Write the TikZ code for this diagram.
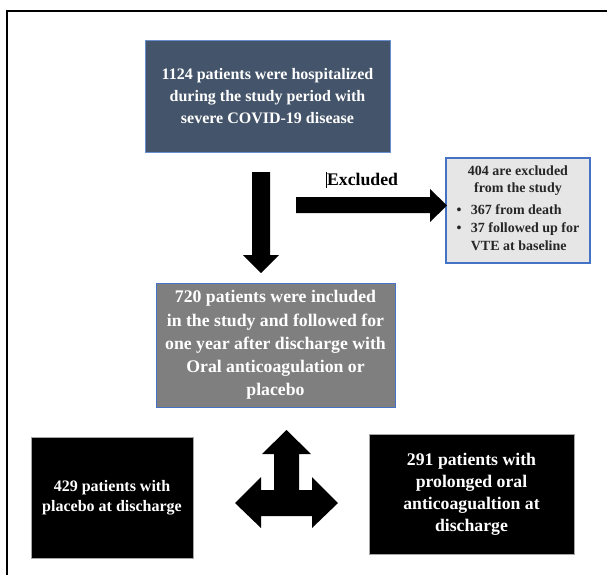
\documentclass[tikz,border=0pt]{standalone}
\usepackage{fontspec}
\setmainfont{Liberation Serif}
\usepackage{xcolor}
\usetikzlibrary{positioning}
\definecolor{slate}{HTML}{44546A}
\definecolor{edgeblue}{HTML}{4472C4}
\definecolor{midgray}{HTML}{7F7F7F}
\definecolor{lightgray}{HTML}{E7E6E6}
\tikzset{
  box/.style={draw, align=center, font=\bfseries, inner sep=2pt},
  topbox/.style={box, fill=slate, draw=edgeblue!80, text=white, line width=0.6pt,
    minimum width=245*0.75pt, minimum height=112*0.75pt, font=\bfseries\fontsize{12}{16.5}\selectfont},
  midbox/.style={box, fill=midgray, draw=edgeblue, text=white, line width=0.6pt,
    minimum width=239*0.75pt, minimum height=124*0.75pt, font=\bfseries\fontsize{13.3}{17.4}\selectfont},
  exbox/.style={box, fill=lightgray, draw=edgeblue, line width=1.1pt, text=black!85,
    minimum width=144*0.75pt, minimum height=105*0.75pt, font=\bfseries\fontsize{10.5}{13.3}\selectfont},
  armbox/.style={box, fill=black, draw=gray!70, text=white, line width=0.4pt},
  blockarr/.style={fill=black, draw=none},
}
\begin{document}
\begin{tikzpicture}[x=0.75pt, y=-0.75pt]
  \useasboundingbox (0,0) rectangle (607,575);
  \draw[line width=1.6pt] (7,575) -- (7,11) -- (607,11);

  \node[topbox] (hosp) at (267.5,96) {1124 patients were hospitalized\\during the study period with\\severe COVID-19 disease};
  \node[exbox] (excl) at (518,210.5) {404 are excluded\\from the study\\[4pt]
    \begin{tabular}{@{}l@{\hspace{7pt}}l@{}}
      \textbullet & 367 from death\\
      \textbullet & 37 followed up for\\
                  & VTE at baseline
    \end{tabular}};
  \node[midbox] (incl) at (275.5,345) {720 patients were included\\in the study and followed for\\one year after discharge with\\Oral anticoagulation or\\placebo};
  \node[armbox, minimum width=162*0.75pt, minimum height=121*0.75pt,
    font=\bfseries\fontsize{12}{15}\selectfont] (plac) at (112,497.5) {429 patients with\\placebo at discharge};
  \node[armbox, minimum width=205*0.75pt, minimum height=120*0.75pt,
    font=\bfseries\fontsize{13.3}{16.5}\selectfont] (anti) at (471.5,494) {291 patients with\\prolonged oral\\anticoagualtion at\\discharge};

  \node[font=\bfseries\fontsize{13.3}{16}\selectfont] (exlab) at (362,180) {\rule[-0.15em]{0.5pt}{0.9em}\hspace{0.3pt}Excluded};

  % block arrows
  \fill[blockarr] (252,172) -- (270,172) -- (270,255) -- (279,255) -- (261,273) -- (243,255) -- (252,255) -- cycle;
  \fill[blockarr] (296,197) -- (430,197) -- (430,189) -- (447,205.5) -- (430,222) -- (430,213) -- (296,213) -- cycle;
  \fill[blockarr] (286.5,430) -- (311,454) -- (299,454) -- (299,490) -- (312,490) -- (312,477) -- (338,503)
    -- (312,528) -- (312,516) -- (261,516) -- (261,528) -- (235,503) -- (261,477) -- (261,490)
    -- (274,490) -- (274,454) -- (262,454) -- cycle;
\end{tikzpicture}
\end{document}
